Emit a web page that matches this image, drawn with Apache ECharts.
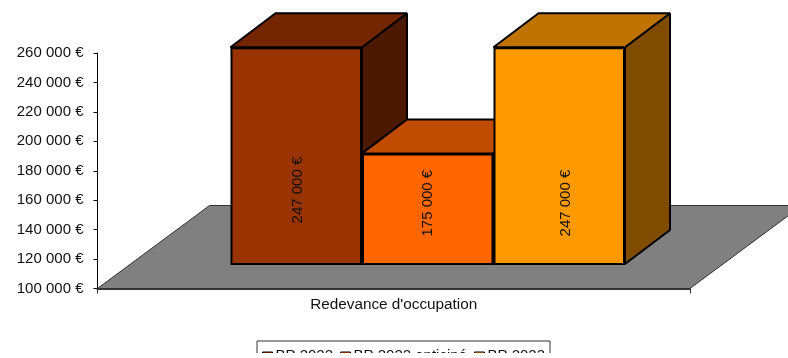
<!DOCTYPE html>
<html>
<head>
<meta charset="utf-8">
<style>
html,body{margin:0;padding:0;background:#fff;overflow:hidden}
#chart{width:788px;height:358px}
</style>
<script src="https://cdn.jsdelivr.net/npm/echarts@6/dist/echarts.min.js"></script>
</head>
<body>
<div id="chart"></div>
<script>
const categories = ["Redevance d'occupation"];
const seriesNames = ['BP 2022', 'BP 2022 anticipé', 'BP 2023'];
const budget2022 = [247000];
const anticipated2022 = [175000];
const budget2023 = [247000];
const yTicks = [100000, 120000, 140000, 160000, 180000, 200000, 220000, 240000, 260000];

const seriesValues = [budget2022, anticipated2022, budget2023];
const frontColors = ['#993300', '#FF6600', '#FF9900'];
const topColors = ['#732600', '#BF4C00', '#BF7300'];
const sideColors = ['#4C1900', '#802F00', '#804C00'];
// Label offsets run along the rotated text, then across it.
const labelShifts = [[-34, 1.5], [6, 0], [-47, 7]];

const FONT = '"Liberation Sans", Arial, sans-serif';
const BAR_WIDTH = 131.5;
const BAR_DEPTH = [45, 34];
const FLOOR_DEPTH = [112, 83];
const yMin = yTicks[0];
const yMax = yTicks[yTicks.length - 1];
const yStep = yTicks[1] - yTicks[0];

const euro = v => String(v).replace(/\B(?=(\d{3})+$)/g, ' ') + ' €';

// Side and top faces of one prism, extruded back from its front face.
function prismFaces(index) {
  return function (params, api) {
    const cx = api.coord([0, api.value(1)])[0] + (index - 1) * BAR_WIDTH;
    const top = api.coord([0, api.value(1)])[1];
    const base = api.coord([0, yMin])[1];
    const l = cx - BAR_WIDTH / 2, r = cx + BAR_WIDTH / 2;
    const [dx, dy] = BAR_DEPTH;
    const edge = {stroke: '#000', lineWidth: 2, lineJoin: 'bevel'};
    return {
      type: 'group',
      children: [
        {type: 'polygon', shape: {points: [[r, top], [r + dx, top - dy], [r + dx, base - dy], [r, base]]},
         style: Object.assign({fill: sideColors[index]}, edge)},
        {type: 'polygon', shape: {points: [[l, top], [l + dx, top - dy], [r + dx, top - dy], [r, top]]},
         style: Object.assign({fill: topColors[index]}, edge)}
      ]
    };
  };
}

// Grey floor of the 3D plot, laid on the lowest value of the visible axis.
function floorItem(params, api) {
  const s = params.coordSys;
  const y = api.coord([0, yMin])[1];
  const [dx, dy] = FLOOR_DEPTH;
  const x0 = s.x, x1 = s.x + s.width;
  return {
    type: 'polygon',
    shape: {points: [[x0, y], [x0 + dx, y - dy], [x1 + dx, y - dy], [x1, y]]},
    style: {fill: '#808080', stroke: '#333', lineWidth: 1}
  };
}

const series = [{
  type: 'custom', name: 'floor', xAxisIndex: 0, yAxisIndex: 0, z: 1, silent: true,
  renderItem: floorItem, data: [[0, yMin]]
}];

seriesValues.forEach((values, i) => {
  series.push({
    type: 'custom', name: 'faces' + i, xAxisIndex: 1, yAxisIndex: 1, z: 2 + i * 2, silent: true,
    renderItem: prismFaces(i), data: values.map((v, k) => [k, v])
  });
  series.push({
    type: 'bar', name: seriesNames[i], xAxisIndex: 1, yAxisIndex: 1, z: 3 + i * 2,
    barWidth: BAR_WIDTH, barGap: 0, data: values,
    itemStyle: {color: frontColors[i], borderColor: '#000', borderWidth: 2},
    label: {
      show: true, position: 'inside', rotate: 90, offset: labelShifts[i], color: '#111',
      fontFamily: FONT, fontSize: 15, formatter: p => euro(p.value)
    }
  });
});

const chart = echarts.init(document.getElementById('chart'), null, {renderer: 'canvas'});
chart.setOption({
  animation: false,
  backgroundColor: '#fff',
  grid: [
    {left: 97.5, top: 53, width: 592.5, height: 235.5},
    {left: 131.5, top: 28, width: 592.5, height: 236}
  ],
  xAxis: [
    {type: 'category', gridIndex: 0, data: categories,
     axisLine: {lineStyle: {color: '#333', width: 2}},
     axisTick: {show: true, length: 5, lineStyle: {color: '#333'}},
     axisLabel: {color: '#111', fontFamily: FONT, fontSize: 15.3, margin: 9}},
    {type: 'category', gridIndex: 1, data: categories, show: false}
  ],
  yAxis: [
    {type: 'value', gridIndex: 0, min: yMin, max: yMax, interval: yStep,
     splitLine: {show: false},
     axisLine: {show: true, lineStyle: {color: '#000', width: 1}},
     axisTick: {show: true, length: 4, lineStyle: {color: '#000'}},
     axisLabel: {color: '#111', fontFamily: FONT, fontSize: 15, margin: 14, formatter: euro}},
    {type: 'value', gridIndex: 1, min: yMin, max: yMax, interval: yStep, show: false}
  ],
  legend: {
    data: seriesNames, left: 257, top: 341, padding: [7, 5, 5, 5],
    itemWidth: 10, itemHeight: 7, itemGap: 7,
    borderColor: '#333', borderWidth: 1, backgroundColor: '#fff',
    icon: 'rect', selectedMode: false,
    itemStyle: {borderColor: '#000', borderWidth: 1},
    textStyle: {color: '#111', fontFamily: FONT, fontSize: 15, padding: [0, 0, 0, -2]}
  },
  // Blank strip along the bottom edge of the page.
  graphic: [{
    type: 'rect', z: 1000, silent: true,
    shape: {x: 0, y: 353, width: 788, height: 5},
    style: {fill: '#fff'}
  }],
  series
});
</script>
</body>
</html>
